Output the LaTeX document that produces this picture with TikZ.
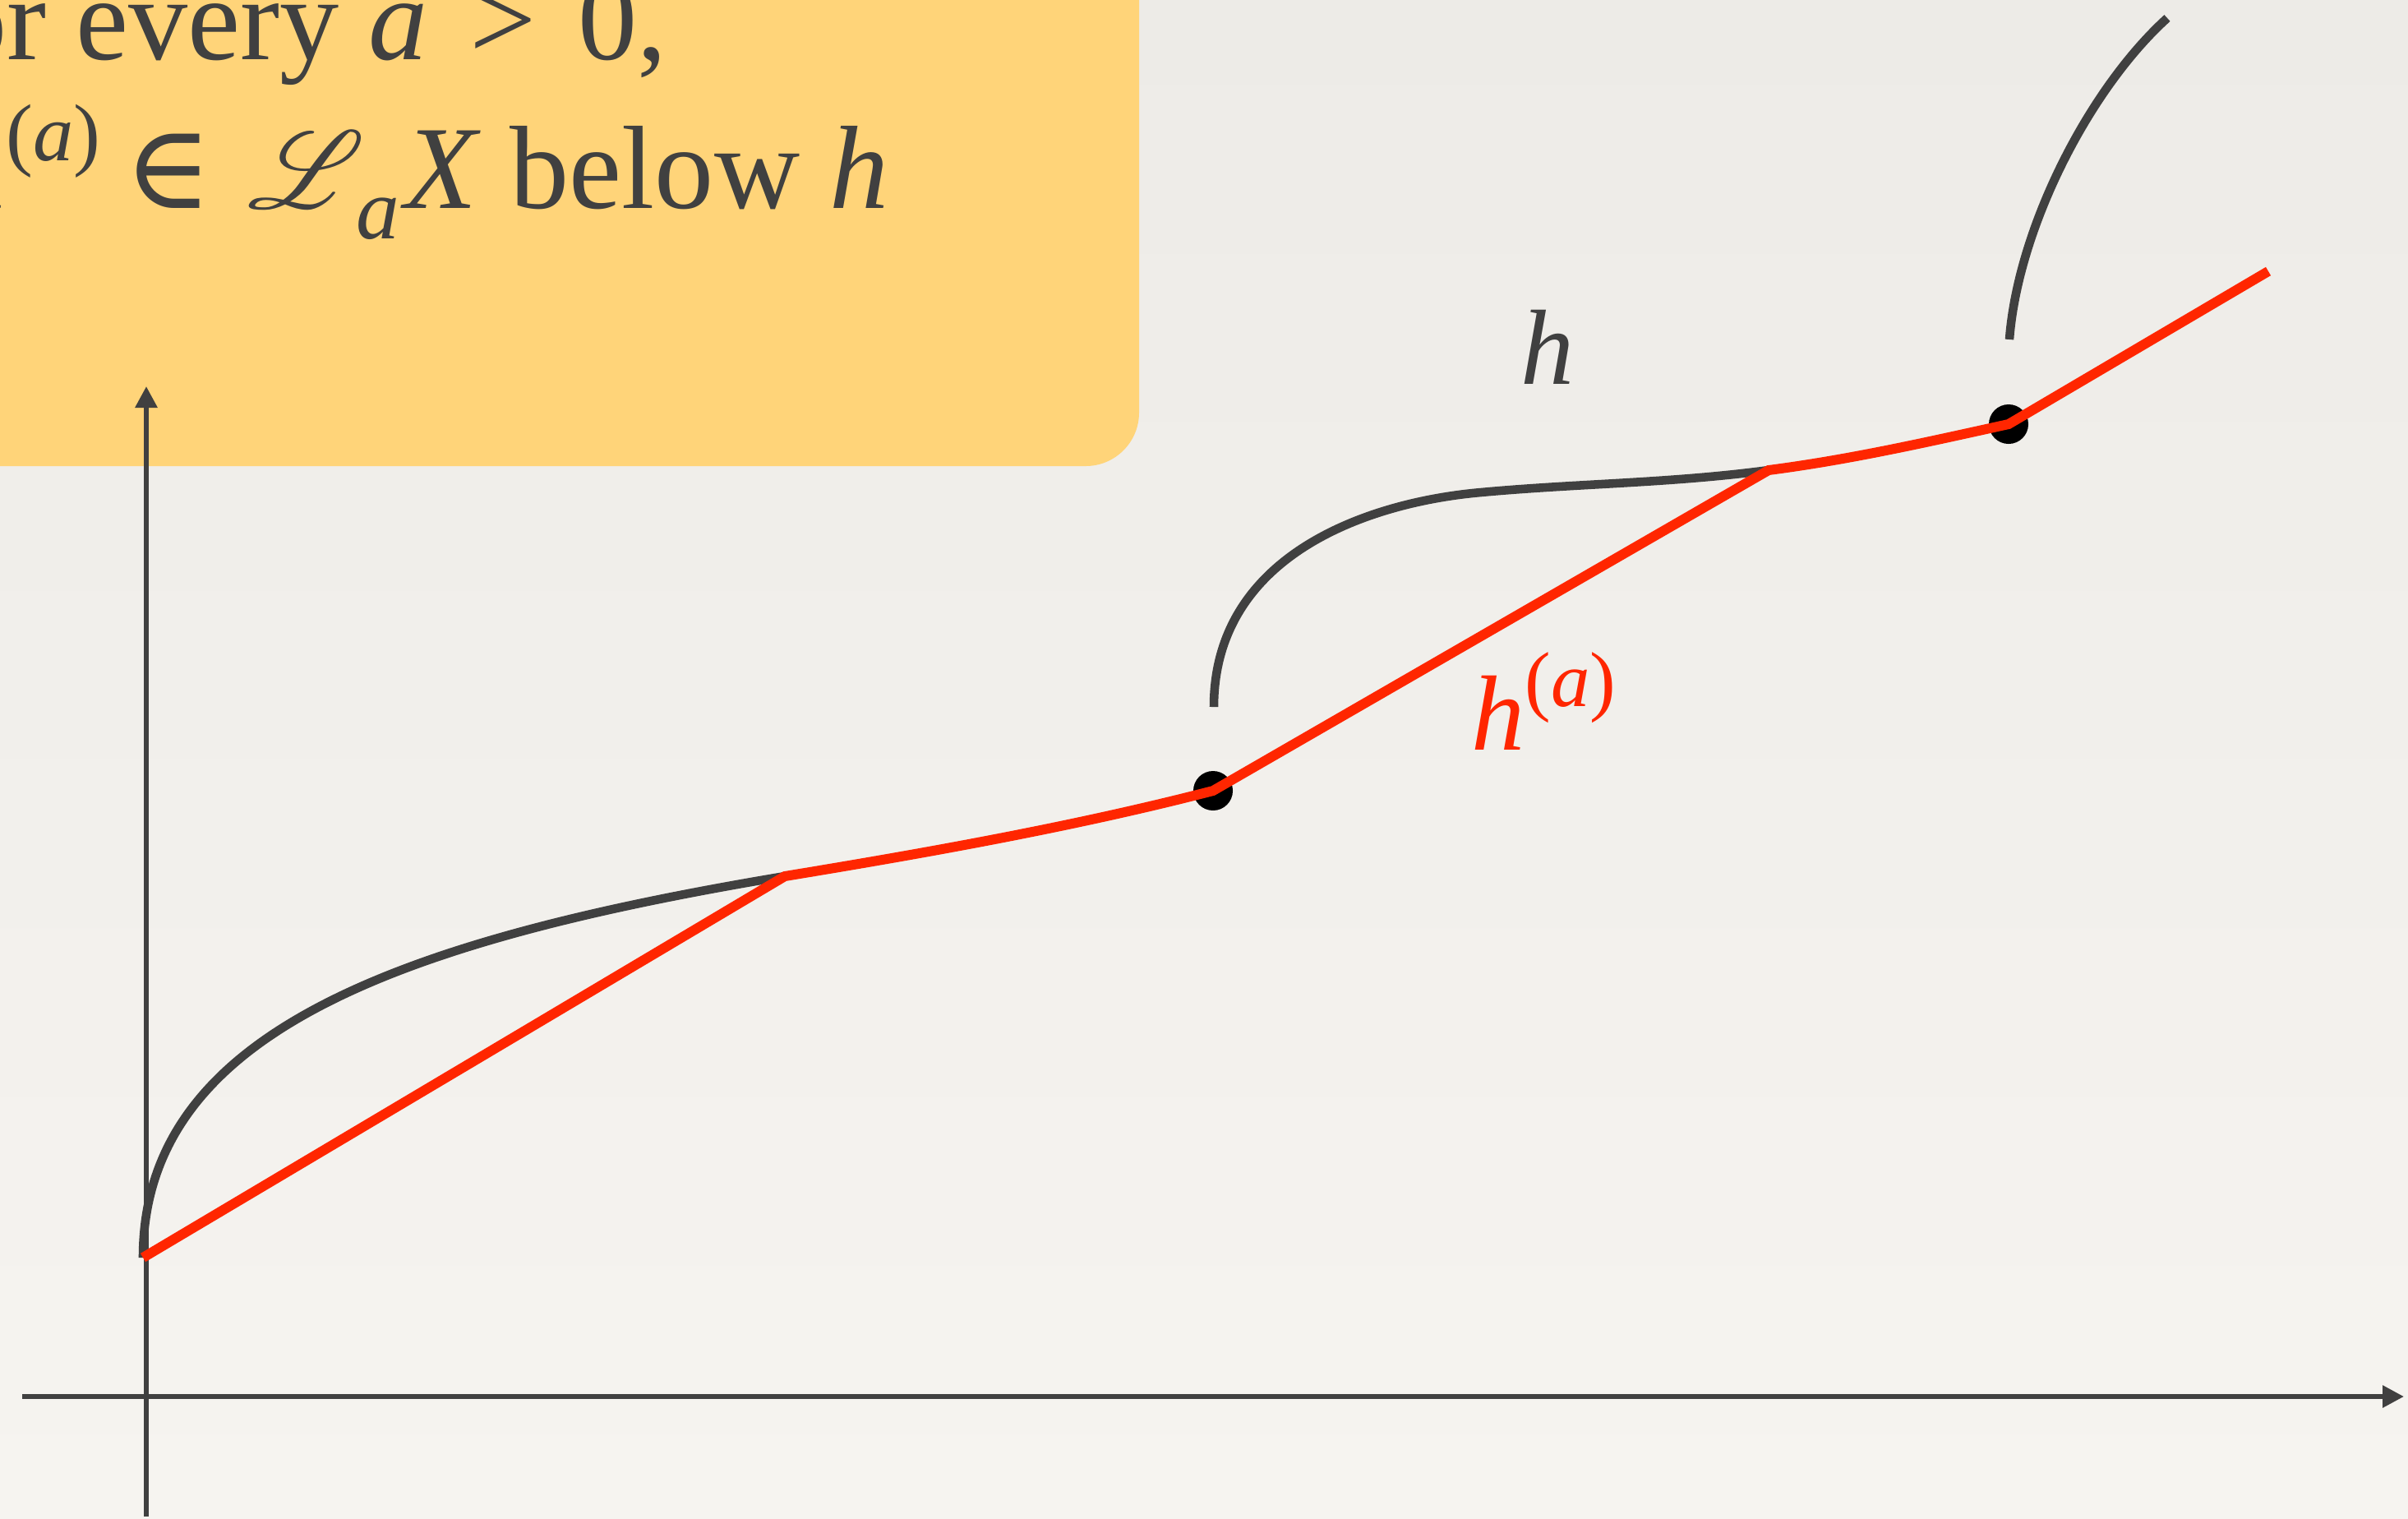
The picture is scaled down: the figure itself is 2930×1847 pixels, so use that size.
\documentclass[tikz,border=0pt]{standalone}
\usepackage{fontspec}
\setmainfont{Liberation Serif}
\newfontfamily\djv{DejaVu Serif}
\usepackage{mathrsfs}
\usepackage{graphicx}
\usetikzlibrary{arrows.meta}
\definecolor{ink}{HTML}{404040}
\definecolor{hred}{HTML}{FF2600}
\definecolor{note}{HTML}{FFD479}
\definecolor{papertop}{HTML}{EDEBE7}
\definecolor{papermid}{HTML}{E6E4E0}
\definecolor{paperbot}{HTML}{F6F4F0}
\begin{document}
\begin{tikzpicture}[x=0.01cm,y=-0.01cm,
  axis/.style={draw=ink, line width=1.7pt, -{Triangle[length=7.4pt,width=7.4pt]}},
  hcurve/.style={draw=ink, line width=3pt},
  envelope/.style={draw=hred, line width=3.4pt, line join=miter},
  touch/.style={circle, fill=black, inner sep=0pt, minimum size=0.48cm},
  boxtext/.style={text=ink, font=\fontsize{41}{50}\selectfont, inner sep=0pt},
  lbl/.style={font=\fontsize{37}{40}\selectfont, inner sep=0pt}
]
\useasboundingbox (0,0) rectangle (2930,1847);
\clip (0,0) rectangle (2930,1847);
\shade[top color=papertop, middle color=papermid, bottom color=paperbot] (0,0) rectangle (2930,1847);
% note box
\fill[note, rounded corners=0.65cm] (-200,-200) rectangle (1386,567);
\node[boxtext, anchor=base east] (l1) at (812,72) {For every \textit{a}\hspace{0.1em} > \hspace{0.1em}0,};
\node[boxtext, anchor=base east] (l2) at (1082,253) {\textit{h}\raisebox{0.4em}{\fontsize{28}{28}\selectfont(\textit{a})}\hspace{-0.05em} {\djv ∈}\hspace{0.05em} \scalebox{3.8}{\fontsize{10}{10}\selectfont$\mathscr{L}$}\hspace{-0.07em}\raisebox{-0.26em}{\fontsize{30}{30}\selectfont\textit{a}}\hspace{0.04em}\textit{X} below \textit{h}};
% axes
\coordinate (xs) at (27,1699);
\coordinate (xe) at (2925,1699);
\coordinate (ys) at (178,1845);
\coordinate (ye) at (178,470);
\draw[axis] (xs) -- (xe);
\draw[axis] (ys) -- (ye);
% curve points
\coordinate (A0) at (174,1530);
\coordinate (A1) at (955,1066);
\coordinate (B0) at (1477,860);
\coordinate (B1) at (1802,599);
\coordinate (B2) at (2152,572);
\coordinate (C0) at (2445,413);
\coordinate (C1) at (2637,22);
\coordinate (E) at (2760,330);
\coordinate (D1c) at (1476,962);
\coordinate (D2c) at (2444,516);
% h
\draw[hcurve] (A0) .. controls (174,1260) and (475,1146) .. (A1) .. controls (1125,1038) and (1306,1006) .. (D1c);
\draw[hcurve] (B0) .. controls (1477,675) and (1665,611) .. (B1) .. controls (1922,588) and (2032,588) .. (B2) .. controls (2252,559) and (2344,538) .. (D2c);
\draw[hcurve] (C0) .. controls (2455,280) and (2540,110) .. (C1);
% contact dots
\node[touch] (D1) at (D1c) {};
\node[touch] (D2) at (D2c) {};
% envelope
\draw[envelope] (A0) -- (A1) .. controls (1125,1038) and (1306,1006) .. (D1.center) -- (B2) .. controls (2252,559) and (2344,538) .. (D2.center) -- (E);
% labels
\node[lbl, text=ink, anchor=base west] (hl) at (1850,467) {\textit{h}};
\node[lbl, text=hred, anchor=base west] (hal) at (1790,912) {\textit{h}\raisebox{0.4em}{\fontsize{27}{27}\selectfont(\textit{a})}};
\end{tikzpicture}
\end{document}
